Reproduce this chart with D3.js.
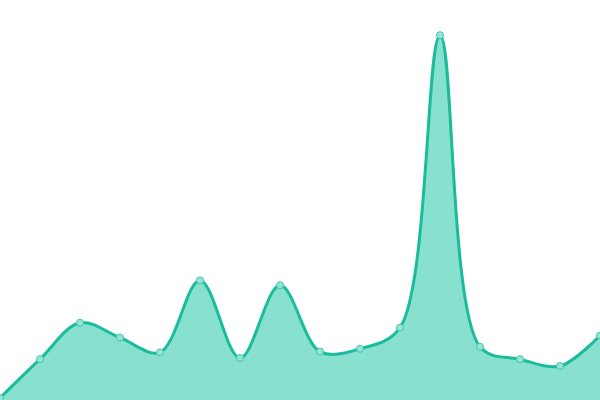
<!DOCTYPE html>
<html><head><meta charset="utf-8">
<script src="https://cdn.jsdelivr.net/npm/d3@7"></script>
<style>html,body{margin:0;padding:0;background:#fff;overflow:hidden}</style>
</head><body>
<svg id="c" width="600" height="400"></svg>
<script>
const categories = d3.range(16);
const values = [0.5, 10.2, 19.3, 15.6, 11.9, 29.9, 10.5, 28.7, 12.1, 12.8, 18.1, 91.2, 13.3, 10.2, 8.5, 16.1];

const W = 600, H = 400;
const svg = d3.select('#c');
const x = d3.scaleLinear().domain([0, categories.length - 1]).range([0, W]);
const y = d3.scaleLinear().domain([0, 100]).range([H, 0]);
const data = categories.map((c, i) => ({c, v: values[i]}));
const curve = d3.curveCatmullRom.alpha(0.5);

svg.append('path').datum(data)
  .attr('d', d3.area().x(d => x(d.c)).y0(H).y1(d => y(d.v)).curve(curve))
  .attr('fill', '#88e0cf');
svg.append('path').datum(data)
  .attr('d', d3.line().x(d => x(d.c)).y(d => y(d.v)).curve(curve))
  .attr('fill', 'none').attr('stroke', '#1abc9c').attr('stroke-width', 3);
svg.selectAll('circle').data(data).join('circle')
  .attr('cx', d => x(d.c)).attr('cy', d => y(d.v)).attr('r', 3.5)
  .attr('fill', '#98e4d4').attr('stroke', '#3cc8a8').attr('stroke-width', 1);
</script>
</body></html>
